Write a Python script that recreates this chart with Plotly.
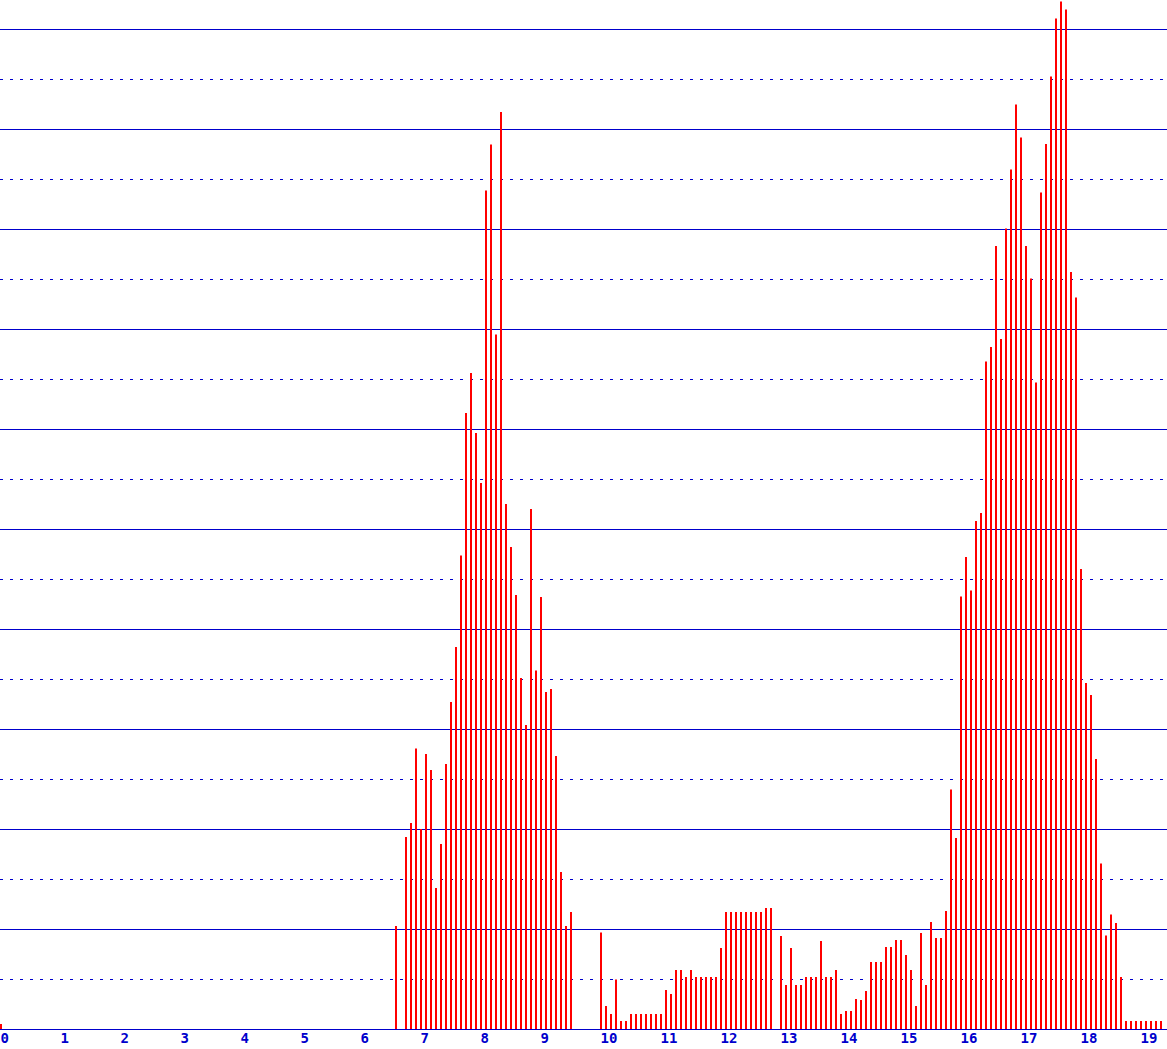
import plotly.graph_objects as go

# 5-minute slots, hours of the day (x positions of the bars)
slot_hours = [i / 12 for i in range(233)]

# bar heights, one per 5-minute slot
values = (
    [0.10]
    + [0] * 78
    + [2.06, 0]
    + [3.84, 4.12, 5.61, 4.00, 5.50, 5.18, 2.82, 3.70, 5.30, 6.54,
       7.64, 9.47, 12.32, 13.12, 11.92, 10.92, 16.77, 17.69, 13.89, 18.34,
       10.50, 9.64, 8.68, 7.02, 6.08, 10.40, 7.17, 8.64, 6.74, 6.80,
       5.46, 3.14, 2.06, 2.34]
    + [0, 0, 0, 0, 0]
    + [1.93, 0.46, 0.30, 0.99, 0.16, 0.16, 0.30, 0.30, 0.30, 0.30,
       0.30, 0.30, 0.30, 0.78, 0.70, 1.18, 1.18, 1.04, 1.18, 1.04,
       1.04, 1.04, 1.04, 1.04, 1.62, 2.34, 2.34, 2.34, 2.34, 2.34,
       2.34, 2.34, 2.34, 2.42, 2.42, 0, 1.86, 0.88]
    + [1.62, 0.88, 0.88, 1.04, 1.04, 1.04, 1.76, 1.04, 1.04, 1.18,
       0.30, 0.36, 0.36, 0.60, 0.58, 0.76, 1.34, 1.34, 1.34, 1.64,
       1.64, 1.78, 1.78, 1.48, 1.18, 0.46, 1.92, 0.88, 2.14, 1.82,
       1.82, 2.36]
    + [4.79, 3.82, 8.65, 9.44, 8.77, 10.16, 10.32, 13.35, 13.64, 15.66,
       13.80, 16.01, 17.19, 18.49, 17.83, 15.66, 15.01, 12.93, 16.73, 17.70,
       19.05, 20.21, 20.55, 20.39, 15.14, 14.63, 9.20, 6.92, 6.68, 5.40,
       3.31, 1.87, 2.29, 2.12, 1.04,
       0.16, 0.16, 0.16, 0.16, 0.16, 0.16, 0.16, 0.16]
)

tick_values = list(range(20))
tick_labels = [str(v) for v in tick_values]

BLUE = "#0000CC"

fig = go.Figure(
    go.Bar(
        x=slot_hours,
        y=values,
        width=1 / 30,
        offset=0,
        marker=dict(color="#FF0000", line=dict(width=0)),
        hoverinfo="skip",
    )
)

fig.update_layout(
    width=1167,
    height=1049,
    margin=dict(l=0, r=0, t=0, b=20, pad=0),
    paper_bgcolor="white",
    plot_bgcolor="white",
    showlegend=False,
    xaxis=dict(
        range=[0, 1167 / 60],
        tickmode="array",
        tickvals=tick_values,
        ticktext=tick_labels,
        ticks="",
        ticklabelposition="outside right",
        ticklabelstandoff=-4,
        tickfont=dict(family="DejaVu Sans Mono", size=14, color=BLUE, weight="bold"),
        showgrid=False,
        zeroline=False,
        showline=True,
        linecolor=BLUE,
        linewidth=1,
        fixedrange=True,
    ),
    yaxis=dict(
        range=[0, 1029 / 50],
        tick0=0,
        dtick=2,
        showticklabels=False,
        ticks="",
        showgrid=True,
        gridcolor=BLUE,
        gridwidth=1,
        zeroline=False,
        showline=False,
        minor=dict(
            tick0=0,
            dtick=1,
            showgrid=True,
            gridcolor=BLUE,
            gridwidth=1,
            griddash="3px,7px",
            ticks="",
        ),
        fixedrange=True,
    ),
)

fig.write_html(
    "out.html",
    config={"displayModeBar": False},
    post_script="document.body.style.margin='0';document.body.style.overflow='hidden';",
)
